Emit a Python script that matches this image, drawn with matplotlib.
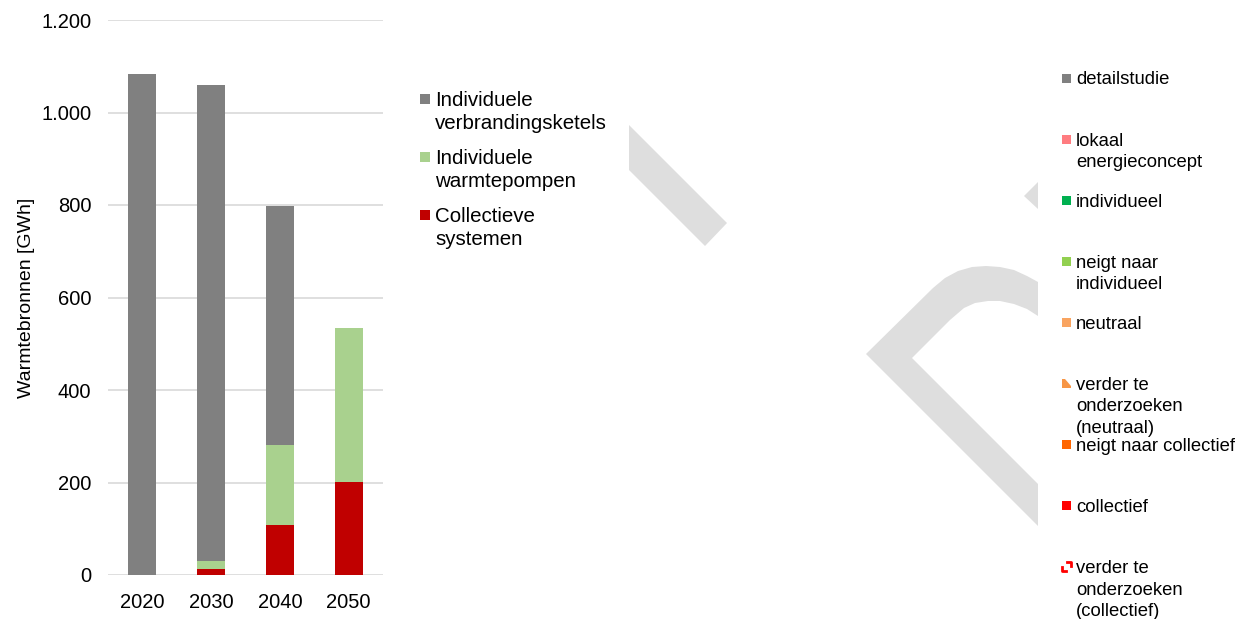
import matplotlib
matplotlib.use("Agg")
import matplotlib.pyplot as plt
from matplotlib.patches import Polygon, Rectangle
from matplotlib.ticker import FuncFormatter

# data
years = ["2020", "2030", "2040", "2050"]
series_names = ["Collectieve\nsystemen",
                "Individuele\nwarmtepompen",
                "Individuele\nverbrandingsketels"]
collectief = [0, 14, 108, 202]
warmtepompen = [0, 16, 174, 332]
ketels = [1084, 1030, 516, 0]
series_colors = ["#C00000", "#A9D18E", "#808080"]

yticks = [0, 200, 400, 600, 800, 1000, 1200]

# second legend (map categories)
map_labels = ["detailstudie", "lokaal\nenergieconcept", "individueel",
              "neigt naar\nindividueel", "neutraal",
              "verder te\nonderzoeken\n(neutraal)", "neigt naar collectief",
              "collectief", "verder te\nonderzoeken\n(collectief)"]
map_colors = ["#808080", "#FF7C80", "#00B050", "#92D050", "#F9A460",
              "#F79646", "#FF6600", "#FF0000", "#FF0000"]
map_styles = ["box", "box", "box", "box", "box", "tri", "box", "box", "corner"]

W, H = 1246, 619
plt.rcParams['font.family'] = ['Liberation Sans', 'DejaVu Sans']
fig = plt.figure(figsize=(W / 100, H / 100), dpi=100)

# overlay in pixel units for watermark and legends
ov = fig.add_axes([0, 0, 1, 1], zorder=0)
ov.set_xlim(0, W)
ov.set_ylim(H, 0)
ov.axis("off")

wm = "#DEDEDE"
ov.add_patch(Polygon([(629, 125), (629, 170), (705, 246), (727, 223)],
                     closed=True, fc=wm, ec="none"))
ov.add_patch(Polygon([(1024, 196), (1038, 182), (1038, 209)],
                     closed=True, fc=wm, ec="none"))
chev = [(1038, 526), (866, 354), (933, 288), (945, 278), (958, 271),
        (972, 267), (986, 266), (1000, 267), (1014, 270), (1027, 276),
        (1038, 282),
        (1038, 316), (1027, 309), (1014, 304), (1000, 301), (988, 301),
        (975, 303), (964, 308), (950, 320), (912, 358), (1038, 484)]
ov.add_patch(Polygon(chev, closed=True, fc=wm, ec="none"))

# bar chart
ax = fig.add_axes([108 / W, (H - 575) / H, 275 / W, 555 / H], zorder=2)
ax.patch.set_alpha(0)
bottom = [0] * len(years)
for vals, col in zip([collectief, warmtepompen, ketels], series_colors):
    ax.bar(years, vals, width=0.41, bottom=bottom, color=col, zorder=3)
    bottom = [b + v for b, v in zip(bottom, vals)]

ax.set_ylim(0, 1200)
ax.set_xlim(-0.5, 3.5)
ax.set_yticks(yticks)
ax.yaxis.set_major_formatter(FuncFormatter(lambda v, p: f"{int(v):,}".replace(",", ".")))
ax.grid(axis="y", color="#D9D9D9", linewidth=1.2, zorder=0)
for s in ax.spines.values():
    s.set_visible(False)
ax.tick_params(axis="both", length=0, labelsize=14.5, colors="#000000")
ax.tick_params(axis="y", pad=12)
ax.tick_params(axis="x", pad=13)
ax.set_ylabel("Warmtebronnen [GWh]", fontsize=14)
ax.yaxis.set_label_coords(-(108 - 35) / 275, 0.5)


def draw_entry(x_box, x_txt, y, label, fs, lsp, color, style, box):
    cap = 0.70 * fs * 100 / 72
    for k, line in enumerate(label.split("\n")):
        ov.text(x_txt, y + k * lsp + cap / 2, line, fontsize=fs, va="baseline",
                ha="left", color="#000000")
    if style == "box":
        ov.add_patch(Rectangle((x_box, y - box / 2), box, box, fc=color, ec="none"))
    elif style == "tri":
        ov.add_patch(Polygon([(x_box, y - box / 2), (x_box + 3, y - box / 2),
                              (x_box + box, y + box / 2 - 2), (x_box + box, y + box / 2),
                              (x_box, y + box / 2)], closed=True, fc=color, ec="none"))
    else:
        ov.plot([x_box + box - 4, x_box + box, x_box + box],
                [y - box / 2, y - box / 2, y - box / 2 + 4], color=color, lw=2)
        ov.plot([x_box, x_box, x_box + 4],
                [y + box / 2 - 4, y + box / 2, y + box / 2], color=color, lw=2)


# legend of the bar chart (top to bottom)
for i, (name, col) in enumerate(zip(series_names[::-1], series_colors[::-1])):
    draw_entry(420, 435, 99 + 58 * i, name, 14.8, 23, col, "box", 10)

# map category legend
for i, (name, col, st) in enumerate(zip(map_labels, map_colors, map_styles)):
    draw_entry(1062, 1076, 78 + 61.1 * i, name, 13.3, 21.5, col, st, 9)

fig.savefig("out.png", dpi=100)
